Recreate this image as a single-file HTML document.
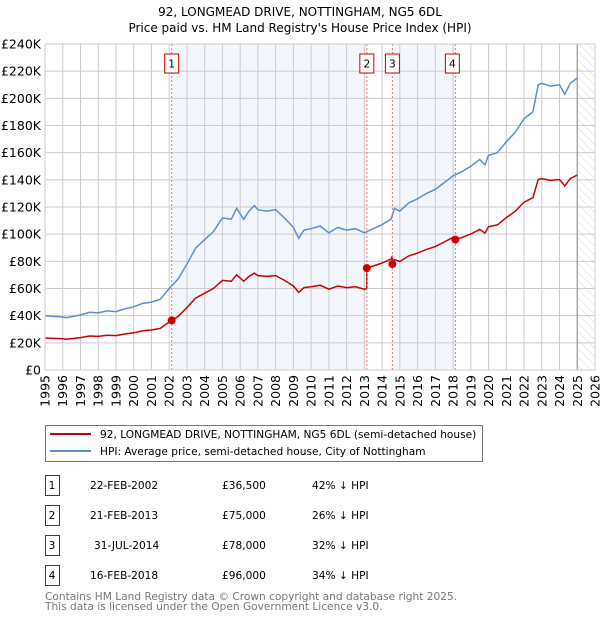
<!DOCTYPE html>
<html><head><meta charset="utf-8"><style>
body{margin:0;background:#fff;font-family:"DejaVu Sans","Liberation Sans",sans-serif}
svg text{font-family:"DejaVu Sans","Liberation Sans",sans-serif}
</style></head><body>
<svg id="c" width="600" height="620" viewBox="0 0 600 620">
<defs><pattern id="hatch" width="6" height="6" patternUnits="userSpaceOnUse" patternTransform="rotate(-45)"><line x1="0" y1="0" x2="0" y2="6" stroke="#ccc" stroke-width="0.8"/></pattern></defs>
<text x="300" y="16" text-anchor="middle" font-size="12">92, LONGMEAD DRIVE, NOTTINGHAM, NG5 6DL</text>
<text x="300" y="32" text-anchor="middle" font-size="12">Price paid vs. HM Land Registry's House Price Index (HPI)</text>
<g id="bg"></g><g id="grid"></g><g id="lines"></g><g id="marks"></g><g id="axes"></g>
<g>
<rect x="45.5" y="425.5" width="437" height="36" fill="#fff" stroke="#777"/>
<line x1="50" y1="434" x2="91" y2="434" stroke="#cc0000" stroke-width="2"/>
<text x="100" y="438" font-size="10.6">92, LONGMEAD DRIVE, NOTTINGHAM, NG5 6DL (semi-detached house)</text>
<line x1="50" y1="451" x2="91" y2="451" stroke="#5b8fd4" stroke-width="2"/>
<text x="100" y="455" font-size="10.6">HPI: Average price, semi-detached house, City of Nottingham</text>
</g>
<g id="table"></g>
<text x="45" y="600" font-size="10.6" fill="#777">Contains HM Land Registry data © Crown copyright and database right 2025.</text>
<text x="45" y="610" font-size="10.6" fill="#777">This data is licensed under the Open Government Licence v3.0.</text>
</svg>
<script>
const hpiYears=[1995,1996,1996.2,1997,1997.5,1998,1998.5,1999,1999.5,2000,2000.5,2001,2001.5,2002,2002.5,2003,2003.5,2004,2004.5,2005,2005.5,2005.8,2006.2,2006.5,2006.8,2007,2007.5,2008,2008.5,2009,2009.3,2009.6,2010,2010.5,2011,2011.5,2012,2012.5,2013,2013.5,2014,2014.5,2014.7,2015,2015.5,2016,2016.5,2017,2017.5,2018,2018.5,2019,2019.5,2019.8,2020,2020.5,2021,2021.5,2022,2022.5,2022.8,2023,2023.5,2024,2024.3,2024.6,2025];
const hpiValues=[40,39,38.5,40.5,42.5,42,43.5,43,45,46.5,49,50,52,60,67,78,90,96,102,112,111,119,111,117,121,118,117,118,112,105,97,103,104,106,101,105,103,104,101,104,107,111,119,117,123,126,130,133,138,143,146,150,155,151,158,160,168,175,185,190,210,211,209,210,203,211,215];
const saleLabels=["1","2","3","4"];
const saleYears=[2002.14,2013.14,2014.58,2018.13];
const salePrices=[36.5,75,78,96];
const saleDates=["22-FEB-2002","21-FEB-2013","31-JUL-2014","16-FEB-2018"];
const salePriceText=["£36,500","£75,000","£78,000","£96,000"];
const salePct=["42% ↓ HPI","26% ↓ HPI","32% ↓ HPI","34% ↓ HPI"];
const yTicks=[0,20,40,60,80,100,120,140,160,180,200,220,240];
const xTicks=[1995,1996,1997,1998,1999,2000,2001,2002,2003,2004,2005,2006,2007,2008,2009,2010,2011,2012,2013,2014,2015,2016,2017,2018,2019,2020,2021,2022,2023,2024,2025,2026];
const NS="http://www.w3.org/2000/svg";
const X0=45,X1=595,Y0=370,Y1=44;
const xs=y=>X0+(y-1995)/31*(X1-X0);
const ys=v=>Y0-v/240*(Y0-Y1);
function mk(tag,attrs,parent){const e=document.createElementNS(NS,tag);for(const k in attrs)e.setAttribute(k,attrs[k]);document.getElementById(parent).appendChild(e);return e;}
function hpiAt(t){for(let i=0;i<hpiYears.length-1;i++){if(t<=hpiYears[i+1]){const f=(t-hpiYears[i])/(hpiYears[i+1]-hpiYears[i]);return hpiValues[i]+f*(hpiValues[i+1]-hpiValues[i]);}}return hpiValues[hpiValues.length-1];}
let r=mk('rect',{x:X0,y:Y1,width:X1-X0,height:Y0-Y1,fill:'#fff'},'bg');

[[0,1],[2,3]].forEach(p=>{const e=mk('rect',{x:xs(saleYears[p[0]]),y:Y1,width:xs(saleYears[p[1]])-xs(saleYears[p[0]]),height:Y0-Y1,fill:'#f3f6fd'},'bg');
});
let h=mk('rect',{x:xs(2025),y:Y1,width:X1-xs(2025),height:Y0-Y1,fill:'url(#hatch)'},'bg');

yTicks.forEach(v=>{const l=mk('line',{x1:X0,x2:X1,y1:ys(v),y2:ys(v),stroke:'#ccc'},'grid');

const t=mk('text',{x:X0-4,y:ys(v)+4.5,'text-anchor':'end','font-size':'12.5'},'axes');t.textContent=v===0?'£0':'£'+v+'K';
});
xTicks.forEach(v=>{const l=mk('line',{x1:xs(v),x2:xs(v),y1:Y1,y2:Y0,stroke:'#ccc'},'grid');

const t=mk('text',{x:0,y:0,'font-size':'12.5','text-anchor':'end',transform:`translate(${xs(v)+4.5},${Y0+5}) rotate(-90)`},'axes');t.textContent=v;
});
let vl=mk('line',{x1:xs(2025),x2:xs(2025),y1:Y1,y2:Y0,stroke:'#999','stroke-width':1.2},'grid');

let d=hpiYears.map((t,i)=>(i?'L':'M')+xs(t).toFixed(1)+','+ys(hpiValues[i]).toFixed(1)).join('');
let hp=mk('path',{d:d,fill:'none',stroke:'#5b8fd4','stroke-width':1.5},'lines');

const ratios=saleYears.map((t,i)=>salePrices[i]/hpiAt(t));
function ratioAt(t){let k=0;for(let i=0;i<saleYears.length;i++)if(t>=saleYears[i])k=i;return ratios[k];}
let pts=[];
hpiYears.forEach((t,i)=>{pts.push([t,hpiValues[i]*ratioAt(t)]);});
saleYears.forEach((t,i)=>{if(i>0)pts.push([t-0.001,hpiAt(t)*ratios[i-1]]);pts.push([t,salePrices[i]]);});
pts.sort((a,b)=>a[0]-b[0]);
let d2=pts.map((p,i)=>(i?'L':'M')+xs(p[0]).toFixed(1)+','+ys(p[1]).toFixed(1)).join('');
let pp=mk('path',{d:d2,fill:'none',stroke:'#cc0000','stroke-width':1.5},'lines');

saleYears.forEach((t,i)=>{
const l=mk('line',{x1:xs(t),x2:xs(t),y1:Y1,y2:Y0,stroke:'#f07070','stroke-dasharray':'2,2'},'marks');

const c=mk('circle',{cx:xs(t),cy:ys(salePrices[i]),r:4,fill:'#cc0000'},'marks');

const b=mk('rect',{x:xs(t)-7-(i===3?3:0),y:54,width:14,height:19,fill:'#fff',stroke:'#cc0000'},'marks');

const tx=mk('text',{x:xs(t)-(i===3?3:0),y:67.5,'text-anchor':'middle','font-size':'10.6'},'marks');tx.textContent=saleLabels[i];

const ty=475+i*30;
const tb=mk('rect',{x:45.5,y:ty+0.5,width:14,height:20,fill:'#fff',stroke:'#cc0000'},'table');

const vals=[[52,saleLabels[i],'middle'],[i===2?94:90,saleDates[i],'start'],[222,salePriceText[i],'start'],[312,salePct[i],'start']];
vals.forEach(v=>{const e=mk('text',{x:v[0],y:ty+14,'font-size':'10.6','text-anchor':v[2]},'table');e.textContent=v[1];
});
});
let ax=mk('rect',{x:X0,y:Y1,width:X1-X0,height:Y0-Y1,fill:'none',stroke:'#ccc'},'axes');

</script>
</body></html>
